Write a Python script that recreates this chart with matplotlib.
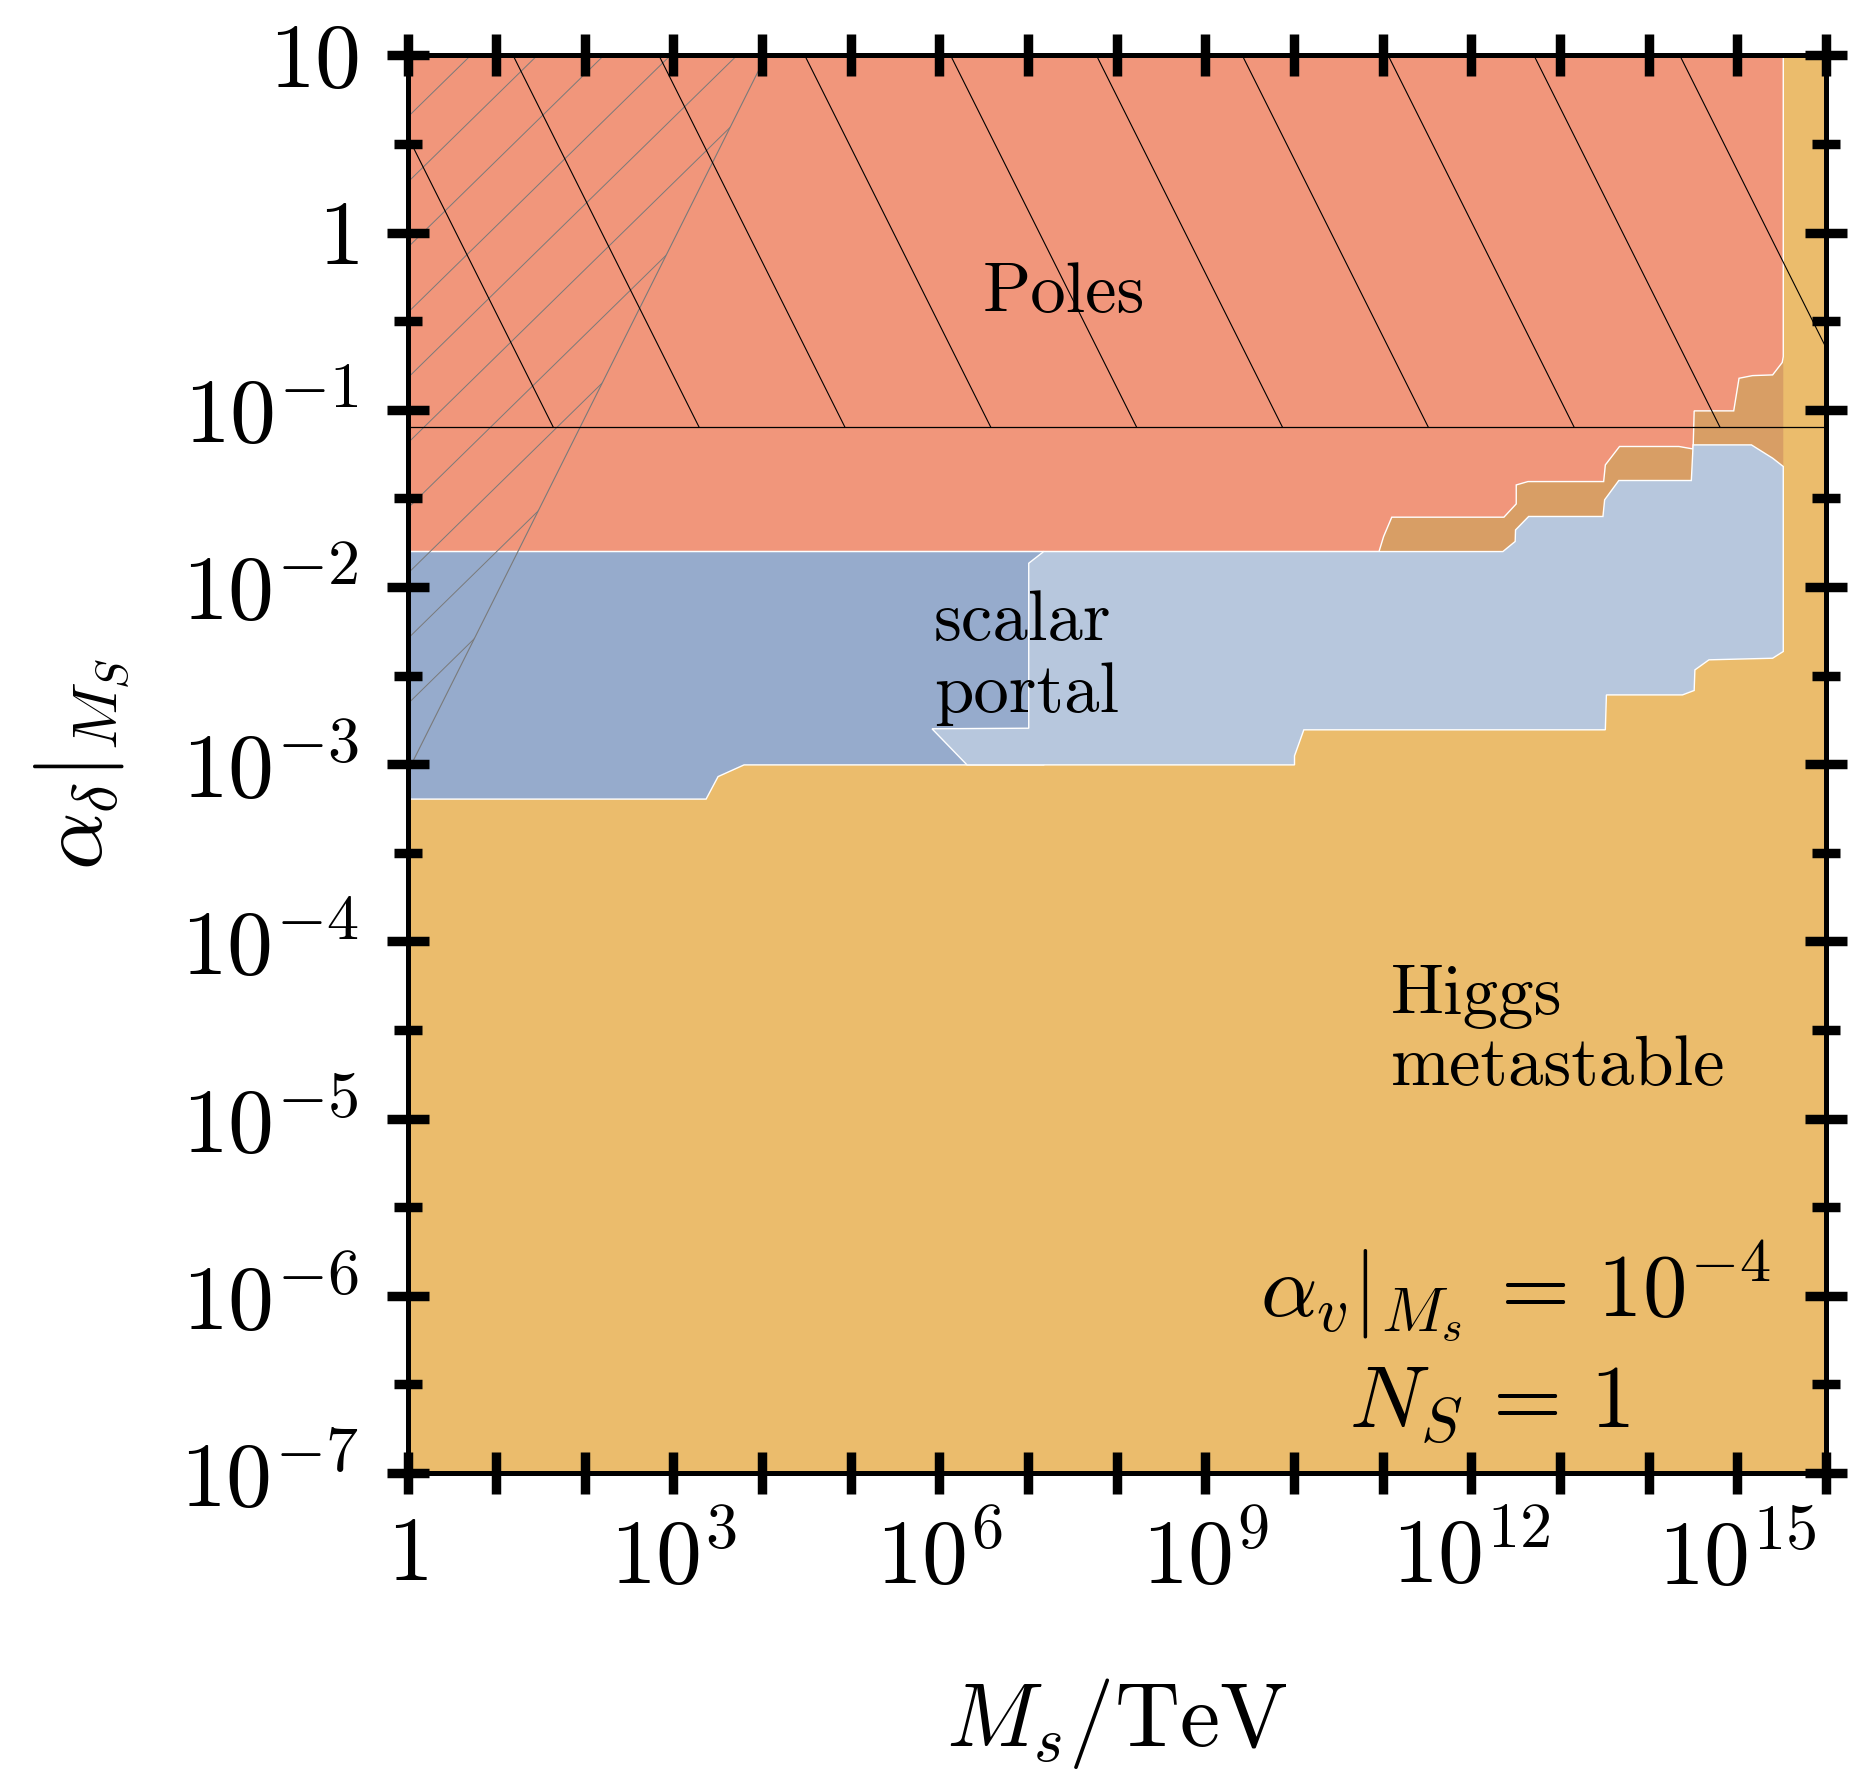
# -*- coding: utf-8 -*-
"""Scalar portal parameter space: alpha_delta vs M_s with pole / metastability regions."""

import matplotlib

matplotlib.use("Agg")
import matplotlib.pyplot as plt
import numpy as np
from matplotlib.patches import Polygon
from matplotlib.ticker import FixedFormatter, FixedLocator, NullLocator

plt.rcParams["mathtext.fontset"] = "cm"
plt.rcParams["font.family"] = "serif"
plt.rcParams["font.serif"] = ["cmr10"]
plt.rcParams["axes.formatter.use_mathtext"] = True

OUTPUT_PNG = "out.png"

# ==================== Data: log10(M_s/TeV), log10(alpha_delta) ====================
X_TICKS = list(range(0, 17))
X_TICK_LABELS = ["$1$", "", "", "$10^{3}$", "", "", "$10^{6}$", "", "", "$10^{9}$", "",
                 "", "$10^{12}$", "", "", "$10^{15}$", ""]
Y_TICKS = list(range(-7, 2))
Y_TICK_LABELS = ["$10^{-7}$", "$10^{-6}$", "$10^{-5}$", "$10^{-4}$", "$10^{-3}$",
                 "$10^{-2}$", "$10^{-1}$", "$1$", "$10$"]

# lower edge of the Landau-pole region
poles_lower_m = [0.0, 10.958, 11.010, 11.102, 12.367, 12.506, 12.506, 12.638, 13.492, 13.511,
                 13.671, 14.341, 14.501, 14.513, 14.959, 15.019, 15.171, 15.398, 15.506, 15.518]
poles_lower_a = [-1.80, -1.80, -1.715, -1.606, -1.606, -1.531, -1.424, -1.405, -1.405, -1.311,
                 -1.207, -1.207, -1.221, -1.006, -1.006, -0.822, -0.807, -0.803, -0.733, -0.70]

# scalar portal window (stable Higgs), upper and lower edges
portal_upper_m = [7.007, 7.176, 12.355, 12.494, 12.498, 12.646, 13.484, 13.503, 13.663, 14.481,
                  14.501, 15.159, 15.398, 15.518]
portal_upper_a = [-1.866, -1.80, -1.80, -1.743, -1.678, -1.602, -1.602, -1.508, -1.399, -1.399,
                  -1.198, -1.198, -1.273, -1.320]
portal_lower_m = [15.518, 15.398, 14.680, 14.521, 14.513, 14.381, 13.523, 13.511, 10.110, 10.005,
                  10.005, 6.311, 5.916, 7.007]
portal_lower_a = [-2.364, -2.402, -2.411, -2.468, -2.584, -2.609, -2.609, -2.806, -2.806, -2.953,
                  -3.004, -3.004, -2.800, -2.797]

# low-mass part of the portal window
portal_low_m = [0.0, 7.18, 7.18, 3.796, 3.503, 3.368, 0.0]
portal_low_a = [-1.80, -1.80, -3.004, -3.004, -3.070, -3.197, -3.197]

# excluded wedge at small M_s (alpha_delta > 10^-3.045 M_s)
wedge_m = [0.0, 0.0, 4.045]
wedge_a = [1.0, -3.045, 1.0]

# perturbativity bound alpha_delta = 1/(4 pi)
ALPHA_PERT = 1.0 / (4.0 * np.pi)

# ==================== Style ====================
C_HIGGS = "#EBBC6C"
C_POLES = "#F1967B"
C_OVERLAP = "#D89E65"
C_PORTAL = "#B7C7DD"
C_PORTAL_LOW = "#96ABCC"
EDGE_LW = 1.0

X_RANGE = (0.0, 16.0)
Y_RANGE = (-7.0, 1.0)

# hatch lines in log-log space
WEDGE_SLOPE, WEDGE_START, WEDGE_STEP = 0.49, 0.651, 0.368
PERT_START, PERT_STEP = 0.546, 1.645


def lin(logm, loga):
    return np.column_stack([np.power(10.0, np.asarray(logm)), np.power(10.0, np.asarray(loga))])


def add_region(ax, logm, loga, color, z, edge="white"):
    patch = Polygon(lin(logm, loga), closed=True, facecolor=color,
                    edgecolor=edge, linewidth=EDGE_LW, zorder=z)
    ax.add_patch(patch)
    return patch


def hatch(ax, clip, slope, intercepts, color, lw, z):
    xs = np.array([X_RANGE[0] - 1, X_RANGE[1] + 1])
    for b in intercepts:
        (line,) = ax.plot(10.0 ** xs, 10.0 ** (slope * xs + b), color=color, lw=lw, zorder=z)
        line.set_clip_path(clip)


def main():
    fig = plt.figure(figsize=(18.54, 17.71), dpi=100)
    ax = fig.add_axes([0.2198, 0.1683, 0.7651, 0.8004])
    ax.set_xscale("log")
    ax.set_yscale("log")
    ax.set_xlim(10.0 ** X_RANGE[0], 10.0 ** X_RANGE[1])
    ax.set_ylim(10.0 ** Y_RANGE[0], 10.0 ** Y_RANGE[1])
    ax.set_facecolor(C_HIGGS)
    ax.set_axisbelow(False)

    # overlap of pole region with metastable Higgs
    brown_m = poles_lower_m[1:] + portal_upper_m[2:][::-1]
    brown_a = poles_lower_a[1:] + portal_upper_a[2:][::-1]
    add_region(ax, brown_m, brown_a, C_OVERLAP, 1.0, edge="none")

    poles_m = [0.0] + poles_lower_m + [poles_lower_m[-1]]
    poles_a = [1.0] + poles_lower_a + [1.0]
    add_region(ax, poles_m, poles_a, C_POLES, 1.1)

    add_region(ax, portal_low_m, portal_low_a, C_PORTAL_LOW, 1.2)
    add_region(ax, portal_upper_m + portal_lower_m, portal_upper_a + portal_lower_a, C_PORTAL, 1.3)

    # grey wedge hatching and its boundary
    wedge = Polygon(lin(wedge_m, wedge_a), closed=True, facecolor="none", edgecolor="none")
    ax.add_patch(wedge)
    n = int((WEDGE_START - wedge_a[1]) / WEDGE_STEP) + 1
    hatch(ax, wedge, WEDGE_SLOPE, WEDGE_START - WEDGE_STEP * np.arange(n), "#7a7a7a", 0.7, 1.5)
    ax.plot(10.0 ** np.array(wedge_m[1:]), 10.0 ** np.array(wedge_a[1:]),
            color="#7a7a7a", lw=0.8, zorder=1.5)

    # non-perturbative hatching above alpha = 1/(4 pi)
    ya = np.log10(ALPHA_PERT)
    pert = Polygon(lin([X_RANGE[0], X_RANGE[1], X_RANGE[1], X_RANGE[0]], [ya, ya, 1.0, 1.0]),
                   closed=True, facecolor="none", edgecolor="none")
    ax.add_patch(pert)
    n = int((X_RANGE[1] + 1.0 - PERT_START) / PERT_STEP) + 1
    hatch(ax, pert, -1.0, PERT_START + PERT_STEP * np.arange(n), "black", 0.8, 1.6)
    ax.axhline(ALPHA_PERT, color="black", lw=0.9, zorder=1.6)

    # region labels
    ax.text(10 ** 7.40, 10 ** -0.446, "Poles", fontsize=51, ha="center", va="baseline", zorder=3)
    for i, word in enumerate(["scalar", "portal"]):
        ax.text(10 ** 5.935, 10 ** (-2.298 - 0.405 * i), word, fontsize=51,
                ha="left", va="baseline", zorder=3)
    for i, word in enumerate(["Higgs", "metastable"]):
        ax.text(10 ** 11.09, 10 ** (-4.412 - 0.40 * i), word, fontsize=51,
                ha="left", va="baseline", zorder=3)
    ax.text(10 ** 12.49, 10 ** -6.117, r"$\alpha_v|_{M_s}\,=\,10^{-4}$", fontsize=64,
            ha="center", va="baseline", zorder=3)
    ax.text(10 ** 12.20, 10 ** -6.738, r"$N_S\,=\,1$", fontsize=64,
            ha="center", va="baseline", zorder=3)

    # axes styling
    ax.xaxis.set_major_locator(FixedLocator(10.0 ** np.array(X_TICKS)))
    ax.xaxis.set_major_formatter(FixedFormatter(X_TICK_LABELS))
    ax.xaxis.set_minor_locator(NullLocator())
    ax.yaxis.set_major_locator(FixedLocator(10.0 ** np.array(Y_TICKS)))
    ax.yaxis.set_major_formatter(FixedFormatter(Y_TICK_LABELS))
    ax.yaxis.set_minor_locator(FixedLocator(10.0 ** (np.array(Y_TICKS[:-1]) + 0.5)))

    ax.tick_params(which="major", direction="inout", length=30, width=6.8,
                   top=True, right=True, labelsize=66, color="black")
    ax.tick_params(which="minor", direction="inout", length=20, width=6.8,
                   top=True, right=True, color="black")
    ax.tick_params(axis="x", which="major", pad=16)
    ax.tick_params(axis="y", which="major", pad=20)
    for spine in ax.spines.values():
        spine.set_linewidth(3.6)

    ax.set_xlabel(r"$M_s/\mathrm{TeV}$", fontsize=65)
    ax.set_ylabel(r"$\alpha_\delta|_{M_S}$", fontsize=65)
    ax.xaxis.set_label_coords(0.5, -0.143)
    ax.yaxis.set_label_coords(-0.194, 0.5)

    fig.savefig(OUTPUT_PNG, dpi=100)
    plt.close(fig)


if __name__ == "__main__":
    main()
